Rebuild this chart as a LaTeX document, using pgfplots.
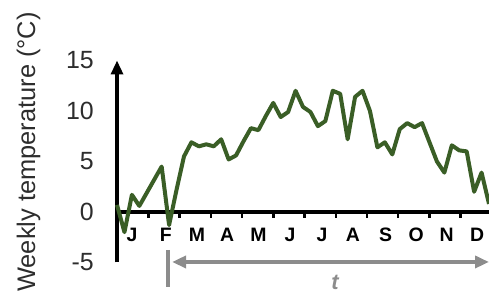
\documentclass[border=0pt]{standalone}
\usepackage{fontspec}
\setmainfont{Liberation Sans}
\usepackage{pgfplots}
\pgfplotsset{compat=1.18}
\usetikzlibrary{arrows.meta}
\definecolor{linegreen}{RGB}{58,94,38}
\definecolor{arrowgray}{RGB}{140,140,140}
\definecolor{txtgray}{RGB}{45,45,45}
\begin{document}
\begin{tikzpicture}
\begin{axis}[
  x=7.44bp, y=10.1bp,
  xmin=0, xmax=50, ymin=-5, ymax=15,
  axis x line=middle, axis y line=left,
  hide obscured x ticks=false, hide obscured y ticks=false,
  x axis line style={-, line width=3.2bp},
  y axis line style={-{Triangle[length=14bp,width=12bp]}, line width=3.2bp},
  xtick={4.2,8.4,12.6,16.8,21,25.2,29.4,33.6,37.8,42,46.2},
  xticklabels={,,,,,,,,,,},
  xtick align=outside,
  xtick style={line width=2.5bp, black},
  major tick length=6bp,
  extra x ticks={2.0,6.55,10.75,14.8,19.0,23.25,27.55,31.7,36.1,40.2,44.3,48.4},
  extra x tick labels={J,F,M,A,M,J,J,A,S,O,N,D},
  extra x tick style={major tick length=0pt, xticklabel style={font=\fontsize{19.5}{23}\selectfont\bfseries, anchor=north, inner sep=0pt, yshift=-16bp}},
  ytick={-5,0,5,10,15},
  yticklabels={-5,0,5,10,15},
  ytick style={draw=none},
  yticklabel style={font=\fontsize{25}{30}\selectfont, text=txtgray, anchor=east, inner sep=0pt, xshift=-20bp},
  ylabel={Weekly temperature (°C)},
  ylabel style={at={(axis description cs:-0.2204,0.547)}, rotate=0, anchor=base, font=\fontsize{25.5}{30}\selectfont, text=txtgray},
  clip=false,
]
\addplot[linegreen, line width=4bp, line join=round] table {
w T
0 0.7
1 -2.0
2 1.7
3 0.6
4 1.9
5 3.2
6 4.5
7 -1.3
8 2.2
9 5.5
10 6.9
11 6.5
12 6.7
13 6.5
14 7.2
15 5.2
16 5.6
17 7.0
18 8.3
19 8.1
20 9.5
21 10.8
22 9.4
23 9.9
24 12.0
25 10.4
26 9.9
27 8.5
28 9.0
29 12.0
30 11.7
31 7.2
32 11.4
33 12.0
34 10.0
35 6.4
36 6.9
37 5.7
38 8.2
39 8.8
40 8.4
41 8.8
42 6.9
43 5.0
44 3.9
45 6.6
46 6.1
47 6.0
48 2.0
49 3.9
50 0.8
};
\draw[arrowgray, line width=4bp] (axis cs:6.85,-3.76) -- (axis cs:6.85,-7.43);
\draw[arrowgray, line width=3.5bp, {Triangle[length=14bp,width=12bp]}-{Triangle[length=14bp,width=12bp]}] (axis cs:7.4,-4.95) -- (axis cs:50,-4.95);
\node[text=arrowgray, font=\fontsize{22}{26}\selectfont\bfseries\itshape] at (axis cs:29.3,-6.93) {t};
\coordinate (bl) at (axis cs:-15.73,-8.42);
\coordinate (tr) at (axis cs:50,20.99);
\end{axis}
\pgfresetboundingbox
\path[use as bounding box] (bl) rectangle (tr);
\end{tikzpicture}
\end{document}
